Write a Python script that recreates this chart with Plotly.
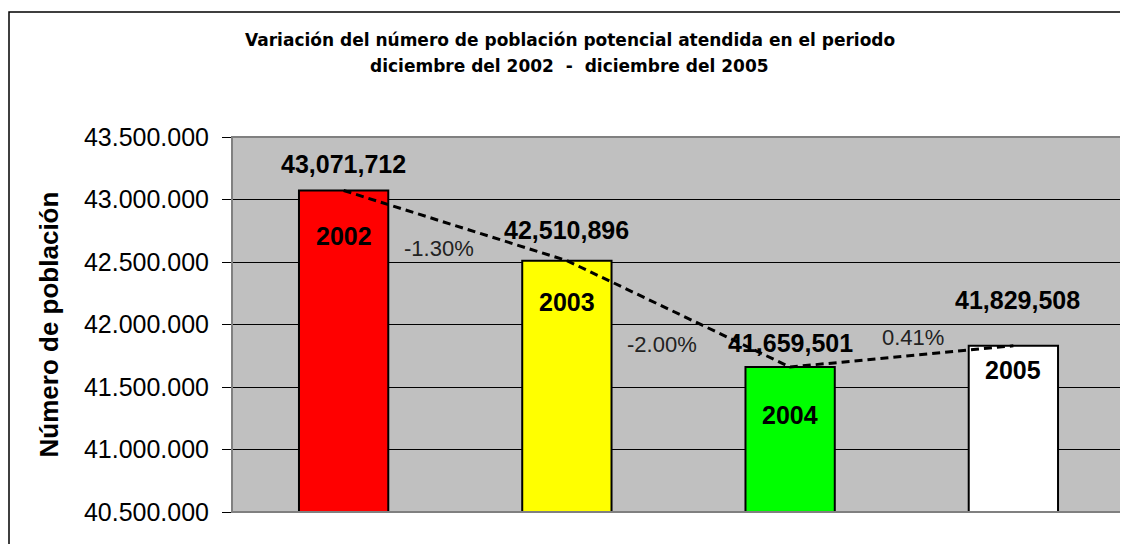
import plotly.graph_objects as go

# datos
years = ['2002', '2003', '2004', '2005']
poblacion = [43071712, 42510896, 41659501, 41829508]
colores = ['#FF0000', '#FFFF00', '#00FF00', '#FFFFFF']
variacion = ['-1.30%', '-2.00%', '0.41%']

y_min, y_max, paso = 40500000, 43500000, 500000

FONT = 'Liberation Sans, Arial, sans-serif'
FONT_TIT = 'DejaVu Sans, Arial, sans-serif'

fig = go.Figure()

fig.add_trace(go.Bar(
    x=list(range(len(years))),
    y=poblacion,
    width=0.4,
    marker=dict(color=colores, line=dict(color='black', width=2)),
    hoverinfo='skip',
))

fig.add_trace(go.Scatter(
    x=list(range(len(years))),
    y=poblacion,
    mode='lines',
    line=dict(color='black', width=3, dash='8px,5px'),
    hoverinfo='skip',
))

annotations = []

# etiquetas de valor encima de cada barra y año dentro
shift_valor = [27, 31, 24, 46]
shift_anio = [-45, -41, -48, -24]
for i, v in enumerate(poblacion):
    annotations.append(dict(
        x=i, y=v, text=f'<b>{v:,}</b>', showarrow=False,
        yshift=shift_valor[i], xshift=4 if i == 3 else 0,
        font=dict(family=FONT, size=25, color='black'),
    ))
    annotations.append(dict(
        x=i, y=v, text=f'<b>{years[i]}</b>', showarrow=False,
        yshift=shift_anio[i],
        font=dict(family=FONT, size=25, color='black'),
    ))

# porcentajes de variacion entre barras
dx = [-16, -17, 11]
dy = [-23, -31, 19]
for i, txt in enumerate(variacion):
    annotations.append(dict(
        x=i + 0.5, y=(poblacion[i] + poblacion[i + 1]) / 2, text=txt,
        showarrow=False, xshift=dx[i], yshift=dy[i],
        font=dict(family=FONT, size=22, color='#222222'),
    ))

# titulo
annotations.append(dict(
    xref='paper', yref='paper', x=0.378, y=1.29, xanchor='center',
    text='<b>Variación del número de población potencial atendida en el periodo</b>',
    showarrow=False, font=dict(family=FONT_TIT, size=17, color='black'),
))
annotations.append(dict(
    xref='paper', yref='paper', x=0.378, y=1.221, xanchor='center',
    text='<b>diciembre del 2002  -  diciembre del 2005</b>',
    showarrow=False, font=dict(family=FONT_TIT, size=17, color='black'),
))

# titulo eje y
annotations.append(dict(
    xref='paper', yref='paper', x=-0.205, y=0.5, textangle=-90,
    xanchor='center', yanchor='middle',
    text='<b>Número de población</b>', showarrow=False,
    font=dict(family=FONT, size=26, color='black'),
))

fig.update_layout(
    width=1128, height=544,
    margin=dict(l=224, r=11, t=129, b=40),
    paper_bgcolor='white',
    plot_bgcolor='#C0C0C0',
    showlegend=False,
    separators=',.',
    annotations=annotations,
    xaxis=dict(range=[-0.5, 3.5], showticklabels=False, showgrid=False,
               zeroline=False, ticks=''),
    yaxis=dict(range=[y_min, y_max], dtick=paso, tick0=y_min,
               tickformat=',d', ticks='outside', ticklen=9,
               tickcolor='black', ticklabelstandoff=8,
               showgrid=True, gridcolor='black', gridwidth=1,
               zeroline=False,
               tickfont=dict(family=FONT, size=25, color='black')),
    shapes=[
        dict(type='rect', xref='paper', yref='paper', x0=0, x1=1, y0=0, y1=1,
             line=dict(color='#808080', width=2), layer='above'),
        dict(type='rect', xref='paper', yref='paper', x0=-223 / 893, x1=1.1,
             y0=-0.3, y1=1.3333, line=dict(color='black', width=1.5)),
    ],
)

fig.write_html('out.html')
